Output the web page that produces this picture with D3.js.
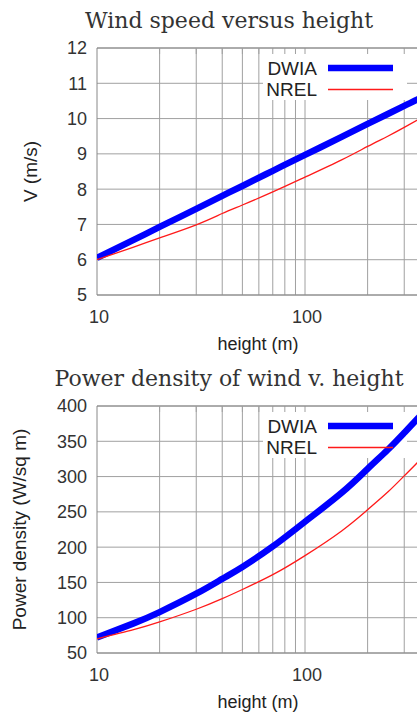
<!DOCTYPE html>
<html>
<head>
<meta charset="utf-8">
<script src="https://cdn.jsdelivr.net/npm/d3@7"></script>
<style>
  body { margin: 0; background: #fff; }
  svg { display: block; }
</style>
</head>
<body>
<div id="chart"></div>
<script>
// values
var heights = [10, 15, 20, 30, 40, 50, 70, 100, 150, 200, 250, 300, 350, 400];
var speedDWIA = [6.05, 6.56, 6.93, 7.44, 7.81, 8.09, 8.52, 8.97, 9.48, 9.85, 10.13, 10.36, 10.55, 10.73];
var speedNREL = [6.00, 6.36, 6.62, 6.99, 7.31, 7.55, 7.92, 8.34, 8.83, 9.21, 9.50, 9.75, 9.97, 10.16];
var powerDWIA = [72, 92, 108, 134, 155, 172, 201, 236, 277, 311, 338, 362, 383, 402];
var powerNREL = [70, 83, 94, 112, 127, 140, 161, 188, 223, 253, 278, 301, 321, 340];

var seriesNames = ["DWIA", "NREL"];
var xGrid = [20, 30, 40, 50, 60, 70, 80, 90, 100, 200, 300];
var xLabels = [10, 100];
var speedTicks = [5, 6, 7, 8, 9, 10, 11, 12];
var powerTicks = [50, 100, 150, 200, 250, 300, 350, 400];

var svgWidth = 417;
var svgHeight = 712;

var svg = d3.select("#chart")
  .append("svg")
  .attr("width", svgWidth)
  .attr("height", svgHeight);

var sans = "Liberation Sans, Arial, sans-serif";
var serif = "DejaVu Serif, serif";
var textColor = "#333";

function drawPanel(opt) {
  var top = opt.top, bottom = opt.bottom, left = 97;

  var x = d3.scaleLog().domain([10, 400]).range([left, left + 208 * Math.log10(40)]);
  var y = d3.scaleLinear().domain(opt.yDomain).range([bottom, top]);

  var g = svg.append("g");

  // title
  g.append("text")
    .attr("x", 229)
    .attr("y", opt.titleY)
    .attr("text-anchor", "middle")
    .attr("font-family", serif)
    .attr("font-size", 22)
    .attr("fill", textColor)
    .text(opt.title);

  // grid
  g.append("g").selectAll("line")
    .data(opt.yTicks)
    .enter().append("line")
    .attr("x1", left).attr("x2", svgWidth)
    .attr("y1", d => y(d)).attr("y2", d => y(d))
    .attr("stroke", "#a0a0a0");

  g.append("g").selectAll("line")
    .data(xGrid)
    .enter().append("line")
    .attr("x1", d => x(d)).attr("x2", d => x(d))
    .attr("y1", top).attr("y2", bottom)
    .attr("stroke", "#a0a0a0");

  // legend box (opaque, hides the grid)
  g.append("rect")
    .attr("x", 263).attr("y", top + 1)
    .attr("width", 144).attr("height", 51)
    .attr("fill", "#fff");

  // border
  g.append("path")
    .attr("d", "M" + svgWidth + "," + top + "H" + left + "V" + bottom + "H" + svgWidth)
    .attr("fill", "none")
    .attr("stroke", "#888");

  // short ticks on the top border
  g.append("g").selectAll("line")
    .data(xGrid)
    .enter().append("line")
    .attr("x1", d => x(d)).attr("x2", d => x(d))
    .attr("y1", top).attr("y2", top + 6)
    .attr("stroke", "#a0a0a0");

  // y tick labels
  g.append("g").selectAll("text")
    .data(opt.yTicks)
    .enter().append("text")
    .attr("x", 87)
    .attr("y", d => y(d))
    .attr("dy", "0.36em")
    .attr("text-anchor", "end")
    .attr("font-family", sans)
    .attr("font-size", 18)
    .attr("fill", textColor)
    .text(d => d);

  // x tick labels
  g.append("g").selectAll("text")
    .data(xLabels)
    .enter().append("text")
    .attr("x", d => x(d) + 2)
    .attr("y", bottom + 28)
    .attr("text-anchor", "middle")
    .attr("font-family", sans)
    .attr("font-size", 18)
    .attr("fill", textColor)
    .text(d => d);

  // axis labels
  g.append("text")
    .attr("x", 258)
    .attr("y", bottom + 55)
    .attr("text-anchor", "middle")
    .attr("font-family", sans)
    .attr("font-size", 18)
    .attr("fill", "#222")
    .text("height (m)");

  g.append("text")
    .attr("transform", "translate(" + opt.yLabelX + "," + (top + bottom) / 2 + ") rotate(-90)")
    .attr("dy", "0.35em")
    .attr("text-anchor", "middle")
    .attr("font-family", sans)
    .attr("font-size", 19)
    .attr("fill", "#222")
    .text(opt.yLabel);

  // curves, clipped to the plot area
  var clipId = "clip" + opt.id;
  svg.append("clipPath").attr("id", clipId)
    .append("rect")
    .attr("x", left).attr("y", top)
    .attr("width", svgWidth - left).attr("height", bottom - top);

  var line = d3.line()
    .x(d => x(d[0]))
    .y(d => y(d[1]))
    .curve(d3.curveNatural);

  var styles = [
    { color: "#0000ff", width: 6.5 },
    { color: "#ff1a1a", width: 1.3 }
  ];

  opt.series.forEach(function(vals, i) {
    g.append("path")
      .datum(heights.map((h, j) => [h, vals[j]]))
      .attr("clip-path", "url(#" + clipId + ")")
      .attr("d", line)
      .attr("fill", "none")
      .attr("stroke", styles[i].color)
      .attr("stroke-width", styles[i].width);

    var ly = top + 20 + i * 21.5;
    g.append("line")
      .attr("x1", 328).attr("x2", 393)
      .attr("y1", ly).attr("y2", ly)
      .attr("stroke", styles[i].color)
      .attr("stroke-width", styles[i].width);

    g.append("text")
      .attr("x", 317)
      .attr("y", ly + 6.5)
      .attr("text-anchor", "end")
      .attr("font-family", sans)
      .attr("font-size", 19)
      .attr("fill", "#222")
      .text(seriesNames[i]);
  });
}

drawPanel({
  id: 1, top: 48, bottom: 295, titleY: 28,
  title: "Wind speed versus height",
  yDomain: [5, 12], yTicks: speedTicks,
  yLabel: "V (m/s)", yLabelX: 30,
  series: [speedDWIA, speedNREL]
});

drawPanel({
  id: 2, top: 406, bottom: 653, titleY: 386,
  title: "Power density of wind v. height",
  yDomain: [50, 400], yTicks: powerTicks,
  yLabel: "Power density (W/sq m)", yLabelX: 19,
  series: [powerDWIA, powerNREL]
});
</script>
</body>
</html>
